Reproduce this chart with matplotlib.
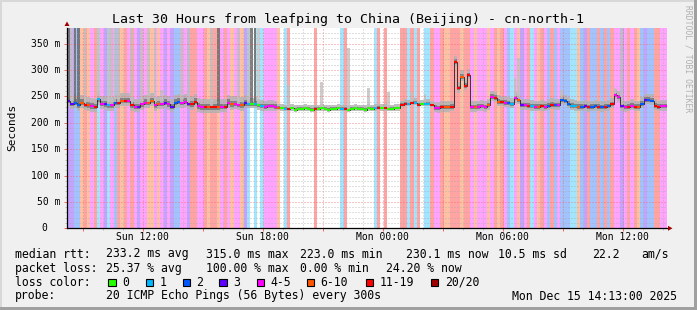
###############################################################################
# SmokePing style latency chart: leafping -> China (Beijing)
###############################################################################
import datetime as dt
import numpy as np
import matplotlib
matplotlib.use('Agg')
import matplotlib.pyplot as plt
from matplotlib.collections import LineCollection
from matplotlib.patches import Rectangle, Polygon

###############################################################################
# Data (10 minute bins, 30 hours)
###############################################################################
START = dt.datetime(2025, 12, 14, 8, 13)
HOURS = 30
BIN_MIN = 10

loss_labels = ['0', '1', '2', '3', '4-5', '6-10', '11-19', '20/20']
loss_colors = ['#26ff00', '#00b8ff', '#0059ff', '#5e00ff',
               '#ff00ff', '#ff5500', '#ff0000', '#a10000']

# loss class per bin (index into loss_labels)
loss_code = ("3322565461" "4314265646" "4344554543"
             "4322443664" "4656654645" "4453101014"
             "4445016000" "0000600000" "0016000000"
             "0016060000" "6616160116" "4465566656"
             "6454445465" "6421453461" "4564262422"
             "2115236226" "2626443464" "6523226644")

# median rtt per bin (ms)
median_ms = [
    241, 236, 238, 233, 238, 234, 233, 231, 230, 244,
    236, 235, 233, 233, 238, 238, 241, 241, 241, 233,
    230, 230, 235, 238, 238, 241, 233, 236, 236, 238,
    235, 230, 238, 240, 238, 240, 236, 235, 240, 231,
    229, 229, 229, 229, 229, 229, 230, 230, 238, 235,
    236, 234, 233, 237, 236, 235, 236, 233, 231, 230,
    231, 231, 230, 228, 227, 226, 226, 227, 225, 226,
    226, 227, 226, 225, 226, 226, 227, 226, 225, 226,
    226, 227, 226, 226, 225, 226, 227, 226, 226, 225,
    227, 226, 227, 228, 227, 227, 226, 226, 227, 227,
    234, 236, 235, 237, 238, 234, 235, 236, 236, 233,
    228, 227, 229, 229, 229, 230, 315, 265, 287, 270,
    290, 229, 229, 230, 231, 229, 233, 249, 247, 240,
    239, 238, 237, 235, 246, 243, 233, 233, 232, 231,
    230, 230, 231, 230, 232, 234, 233, 233, 243, 241,
    236, 232, 231, 230, 230, 231, 229, 230, 231, 230,
    229, 230, 231, 235, 252, 248, 231, 229, 230, 232,
    230, 230, 236, 243, 243, 242, 232, 230, 231, 231,
]

# smoke spread around the median, by region (start hour)
smoke_region_start_h = [0.0, 9.0, 10.5, 18.3]
smoke_up_ms = [15, 12, 8, 12]
smoke_down_ms = [10, 8, 4, 8]

# outlier smoke columns
spike_bins = [0, 1, 2, 3, 5, 9, 12, 13, 14, 15, 19, 22, 24, 26, 28, 34, 36,
              43, 45, 51, 54, 55, 56, 57, 66, 76, 84, 90, 96, 103, 107,
              134, 135, 148, 164, 166]
spike_tops = [380, 380, 380, 380, 380, 380, 380, 380, 380, 380, 380, 380,
              380, 380, 262, 380, 380, 380, 380, 380, 380, 380, 380, 380,
              271, 278, 341, 265, 258, 258, 255, 285, 322, 262, 265, 380]
dark_spike_bins = [0, 2, 3, 45, 55, 56]

stats_rtt = ['233.2 ms avg', '315.0 ms max', '223.0 ms min',
             '230.1 ms now', '10.5 ms sd', '22.2', 'am/s']
stats_loss = ['25.37 % avg', '100.00 % max', '0.00 % min', '24.20 % now']
probe_text = '20 ICMP Echo Pings (56 Bytes) every 300s'
stamp_text = 'Mon Dec 15 14:13:00 2025'
title = 'Last 30 Hours from leafping to China (Beijing) - cn-north-1'

###############################################################################
# Figure
###############################################################################
W, H, DPI = 697, 310, 100
MONO = 'DejaVu Sans Mono'
fig = plt.figure(figsize=(W / DPI, H / DPI), dpi=DPI, facecolor='#f0f0f0')


def px_rect(x, y, w, h, **kw):
    fig.add_artist(Rectangle((x / W, 1 - (y + h) / H), w / W, h / H,
                             transform=fig.transFigure, **kw))


def ftext(x, y, s, **kw):
    kw.setdefault('family', MONO)
    kw.setdefault('va', 'center')
    fig.text(x / W, 1 - y / H, s, **kw)


# bevel frame
px_rect(0, 0, W, 2, color='#d8d8d8', lw=0)
px_rect(0, 0, 2, H, color='#d8d8d8', lw=0)
px_rect(0, H - 3, W, 3, color='#a0a0a0', lw=0)
px_rect(W - 3, 0, 3, H, color='#a0a0a0', lw=0)

PL, PR, PT, PB = 67, 667, 27.7, 228.3
YMAX = 380
ax = fig.add_axes([PL / W, 1 - PB / H, (PR - PL) / W, (PB - PT) / H])
ax.set_facecolor('white')
ax.set_xlim(0, HOURS)
ax.set_ylim(0, YMAX)

n = len(median_ms)
bw = BIN_MIN / 60
t0 = np.arange(n) * bw
med = np.array(median_ms, float)
cls = np.array([int(c) for c in loss_code])

# loss background
mask = cls > 0
ax.bar(t0[mask], YMAX, width=bw, align='edge', bottom=0,
       color=[loss_colors[c] for c in cls[mask]], alpha=0.36, lw=0, zorder=1)

# smoke
reg = np.searchsorted(smoke_region_start_h, t0, side='right') - 1
up = np.array(smoke_up_ms)[reg]
dn = np.array(smoke_down_ms)[reg]
te = np.r_[t0, HOURS]
ax.fill_between(te, np.r_[med - dn, med[-1] - dn[-1]],
                np.r_[med + up, med[-1] + up[-1]],
                step='post', color='#b4b4b4', alpha=0.85, lw=0, zorder=1.5)
ax.fill_between(te, np.r_[med - dn * 0.45, med[-1] - dn[-1] * 0.45],
                np.r_[med + up * 0.4, med[-1] + up[-1] * 0.4],
                step='post', color='#7c7c7c', alpha=0.9, lw=0, zorder=1.6)
sb = np.array(spike_bins)
st = np.array(spike_tops, float)
dark = np.isin(sb, dark_spike_bins)
ax.bar(t0[sb][~dark], st[~dark] - med[sb][~dark], bottom=med[sb][~dark],
       width=bw * 0.8, align='edge', color='#c0c0c0', alpha=0.8, lw=0,
       zorder=1.7)
ax.bar(t0[sb][dark], st[dark] - med[sb][dark], bottom=med[sb][dark],
       width=bw * 0.8, align='edge', color='#6a6a6a', alpha=0.85, lw=0,
       zorder=1.7)

# median line
ax.step(te, np.r_[med, med[-1]], where='post', color='#202020', lw=0.6,
        zorder=3)
segs = [[(t0[i], med[i]), (t0[i] + bw, med[i])] for i in range(n)]
ax.add_collection(LineCollection(segs, colors=[loss_colors[c] for c in cls],
                                 linewidths=1.5, zorder=4))

###############################################################################
# Grid, axes, ticks
###############################################################################
first_hour = (60 - START.minute) / 60
hour_marks = np.arange(first_hour, HOURS, 1.0)
major_marks = [h for h in hour_marks
               if (START + dt.timedelta(hours=h)).hour % 3 == 0]
label_marks = [h for h in major_marks
               if (START + dt.timedelta(hours=h)).hour % 6 == 0]

ax.set_xticks(major_marks)
ax.set_xticks(hour_marks, minor=True)
ax.set_yticks(np.arange(0, 351, 50))
ax.set_yticks(np.arange(0, YMAX, 10), minor=True)
ax.tick_params(labelleft=False, labelbottom=False)
ax.tick_params(which='major', length=2.5, width=0.7, color='#ff6060',
               direction='out')
ax.tick_params(which='minor', length=1.5, width=0.7, color='#c0c0c0',
               direction='out')
ax.set_axisbelow(False)
ax.grid(which='major', color='#f06060', lw=0.72, ls=(0, (1, 2)), alpha=0.7)
ax.grid(which='minor', color='#a8a8a8', lw=0.72, ls=(0, (1, 2)), alpha=0.7)
for s in ['top', 'right']:
    ax.spines[s].set_visible(False)
for s in ['left', 'bottom']:
    ax.spines[s].set_color('black')
    ax.spines[s].set_linewidth(0.9)
    ax.spines[s].set_zorder(5)

for v in range(0, 351, 50):
    ax.annotate(f'{v} m' if v else '0', xy=(0, v),
                xycoords=('axes fraction', 'data'),
                xytext=(-5.0 if v else -14.0, 0), textcoords='offset points',
                ha='right', va='center', fontsize=7, family=MONO)
for h in label_marks:
    ax.annotate((START + dt.timedelta(hours=h)).strftime('%a %H:%M'),
                xy=(h, 0), xycoords=('data', 'axes fraction'),
                xytext=(0, -6.0), textcoords='offset points',
                ha='center', va='center', fontsize=7, family=MONO)

# axis arrows
fig.add_artist(Polygon([[(PL - 2.5) / W, 1 - 26 / H], [(PL + 2.5) / W, 1 - 26 / H],
                        [PL / W, 1 - 21.5 / H]], closed=True,
                       transform=fig.transFigure, color='#a00000', lw=0))
fig.add_artist(Polygon([[(PR + 1) / W, 1 - (PB - 2.5) / H],
                        [(PR + 1) / W, 1 - (PB + 2.5) / H],
                        [(PR + 5.5) / W, 1 - PB / H]], closed=True,
                       transform=fig.transFigure, color='#a00000', lw=0))

###############################################################################
# Texts and legend
###############################################################################
ftext(347.5, 19, title, ha='center', fontsize=9.5)
ftext(12, 127, 'Seconds', ha='center', rotation=90, fontsize=8)
ftext(688, 59, 'RRDTOOL / TOBI OETIKER', ha='center', rotation=270,
      fontsize=5.8, color='#b0b0b0')

LEG = 8.3
ftext(15, 254, 'median rtt:', fontsize=LEG)
for x, s in zip([106.5, 206.5, 299.5, 406.5, 497.5, 592, 641.5], stats_rtt):
    ftext(x, 254, s, fontsize=LEG)
ftext(15, 268.3, 'packet loss:', fontsize=LEG)
for x, s in zip([106.5, 206, 299.5, 385.5], stats_loss):
    ftext(x, 268.3, s, fontsize=LEG)
ftext(15, 282.3, 'loss color:', fontsize=LEG)
for x, lab, col in zip([108.3, 145.7, 182.7, 219.3, 256.7, 306.7, 365.7, 431],
                       loss_labels, loss_colors):
    px_rect(x, 278.5, 7.3, 7.3, facecolor=col, edgecolor='black', lw=0.8)
    ftext(x + 13.8, 282.3, lab, fontsize=LEG)
ftext(15, 296, 'probe:', fontsize=LEG)
ftext(106.5, 296, probe_text, fontsize=LEG)
ftext(512.5, 296, stamp_text, fontsize=LEG)

fig.savefig('out.png', dpi=DPI, facecolor=fig.get_facecolor())
